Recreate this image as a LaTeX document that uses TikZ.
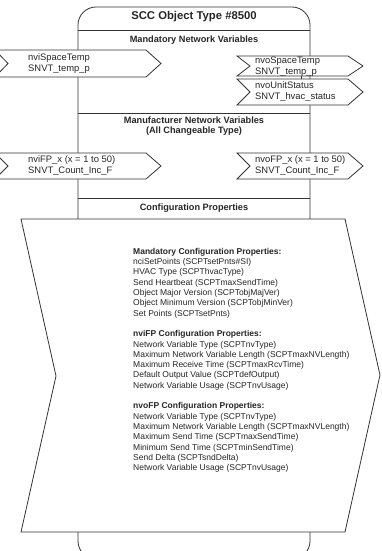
\documentclass[tikz,border=0pt]{standalone}
\usepackage{fontspec}
\setmainfont{Liberation Sans}
\begin{document}
\begin{tikzpicture}[x=1pt,y=-1pt,
  line/.style={draw=black!80,line width=0.8pt},
  nvbox/.style={line,fill=white},
  nvtext/.style={anchor=west,align=left,inner sep=0pt,font=\fontsize{9.4}{11}\selectfont,text=black!85},
  cfgtext/.style={anchor=north west,align=left,inner sep=0pt,font=\fontsize{8.5}{10.3}\selectfont,text=black!85},
  heading/.style={inner sep=0pt,align=center,font=\fontsize{9.2}{10.5}\selectfont\bfseries,text=black!85}]
\useasboundingbox (0,0) rectangle (382,551);
% main body
\draw[line,rounded corners=18] (78,7) rectangle (310,559);
\node[inner sep=0pt,font=\fontsize{11.3}{13}\selectfont\bfseries,text=black!85] (title) at (194,17) {SCC Object Type \#8500};
\draw[line] (78,30) -- (310,30);
\node[heading] (mnv) at (194,40.5) {Mandatory Network Variables};
\draw[line] (78,113) -- (310,113);
\node[heading] (mfnv) at (194,126) {Manufacturer Network Variables\\(All Changeable Type)};
\draw[line] (78,198) -- (310,198);
\node[heading] (cp) at (194,208.5) {Configuration Properties};
% small connector between output boxes
\draw[line] (301,74) -- (301,81);
% input/output boxes
\draw[nvbox] (-5,50) -- (146,50) -- (161,63.5) -- (146,77) -- (-5,77) -- (8,63.5) -- cycle;
\node[nvtext] (nvi1) at (28,64) {nviSpaceTemp\\SNVT\_temp\_p};
\draw[nvbox] (237,56) -- (348,56) -- (363,66) -- (348,76) -- (237,76) -- (250,66) -- cycle;
\node[nvtext] (nvo1) at (255,66.5) {nvoSpaceTemp\\SNVT\_temp\_p};
\draw[nvbox] (237,79) -- (348,79) -- (363,92) -- (348,105) -- (237,105) -- (250,92) -- cycle;
\node[nvtext] (nvo2) at (255,92) {nvoUnitStatus\\SNVT\_hvac\_status};
\draw[nvbox] (-5,153) -- (146,153) -- (161,166) -- (146,179) -- (-5,179) -- (8,166) -- cycle;
\node[nvtext] (nvi2) at (28,166) {nviFP\_x (x = 1 to 50)\\SNVT\_Count\_Inc\_F};
\draw[nvbox] (237,153) -- (348,153) -- (363,166) -- (348,179) -- (237,179) -- (250,166) -- cycle;
\node[nvtext] (nvo3) at (255,166) {nvoFP\_x (x = 1 to 50)\\SNVT\_Count\_Inc\_F};
% configuration properties block
\draw[nvbox] (21,219) -- (345,219) -- (380,375) -- (345,532) -- (21,532) -- (56,376) -- cycle;
\node[cfgtext] (cfg) at (133,248) {\textbf{Mandatory Configuration Properties:}\\
nciSetPoints (SCPTsetPnts\#SI)\\
HVAC Type (SCPThvacType)\\
Send Heartbeat (SCPTmaxSendTime)\\
Object Major Version (SCPTobjMajVer)\\
Object Minimum Version (SCPTobjMinVer)\\
Set Points (SCPTsetPnts)\\[10.3pt]
\textbf{nviFP Configuration Properties:}\\
Network Variable Type (SCPTnvType)\\
Maximum Network Variable Length (SCPTmaxNVLength)\\
Maximum Receive Time (SCPTmaxRcvTime)\\
Default Output Value (SCPTdefOutput)\\
Network Variable Usage (SCPTnvUsage)\\[10.3pt]
\textbf{nvoFP Configuration Properties:}\\
Network Variable Type (SCPTnvType)\\
Maximum Network Variable Length (SCPTmaxNVLength)\\
Maximum Send Time (SCPTmaxSendTime)\\
Minimum Send Time (SCPTminSendTime)\\
Send Delta (SCPTsndDelta)\\
Network Variable Usage (SCPTnvUsage)};
\end{tikzpicture}
\end{document}
